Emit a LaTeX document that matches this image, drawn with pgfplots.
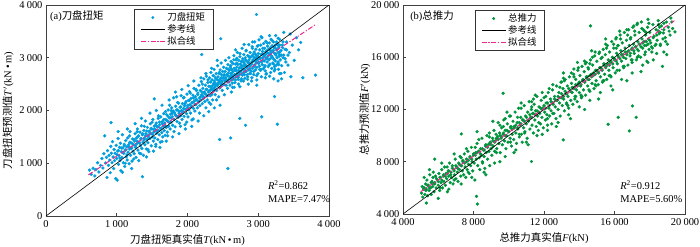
\documentclass[border=0pt]{standalone}
\usepackage{pgfplots}
\pgfplotsset{compat=1.18}
\usepackage{fontspec}
\setmainfont{Liberation Serif}
\newfontfamily\cjk{Noto Sans CJK SC}
\definecolor{tblue}{RGB}{0,158,220}
\definecolor{tgreen}{RGB}{0,148,60}
\definecolor{fitpink}{RGB}{236,40,140}
\pgfplotsset{
  myax/.style={
    scale only axis,
    clip marker paths=true,
    tick align=inside,
    tick pos=left,
    major tick length=3bp,
    axis line style={black!75, line width=0.7pt},
    every tick/.style={black!75, line width=0.6pt},
    ticklabel style={font=\fontsize{10.5}{11}\selectfont},
    xticklabel style={yshift=-1bp},
    /pgf/number format/assume math mode=true,
    /pgf/number format/1000 sep={\hspace{0.22em}},
    scaled ticks=false,
    label style={font=\fontsize{10.5}{12}\selectfont},
    xlabel style={at={(axis description cs:0.5,0)}, anchor=center, yshift=-24bp},
    legend style={draw=black!80, line width=0.6pt, font=\fontsize{9.5}{11}\selectfont\cjk, cells={anchor=west}, row sep=-1.5bp, inner xsep=6bp, inner ysep=1.5bp},
    legend cell align=left,
  },
  scat/.style={only marks, mark=*, mark size=1.45pt, mark options={draw=none}},
  markleg/.style={legend image code/.code={\draw[mark repeat=2,mark phase=2,##1, mark size=1.1pt] plot coordinates {(0bp,0bp) (12bp,0bp) (24bp,0bp)};}},
  lineleg/.style={legend image code/.code={\draw[##1] (0bp,0bp) -- (24bp,0bp);}},
}
\begin{document}
\begin{tikzpicture}
\useasboundingbox (0,0) rectangle (700bp,247bp);
% ---------------- (a) torque
\begin{axis}[myax, at={(46bp,31bp)}, anchor=south west, width=283bp, height=211bp,
  xmin=0, xmax=4000, ymin=0, ymax=4000,
  xtick={0,1000,2000,3000,4000}, ytick={0,1000,2000,3000,4000},
  xlabel={{\cjk 刀盘扭矩真实值}\textit{T}(kN\,•\,m)},
  ylabel={{\cjk 刀盘扭矩预测值}\textit{T}$'$(kN\,•\,m)},
  ylabel style={at={(axis description cs:-0.134,0.5)}, anchor=center, rotate=0},
  legend style={at={(0.311,0.981)}, anchor=north west},
]
\addplot[scat, fill=tblue, color=tblue, markleg]
coordinates {
(615,870)(640,790)(665,905)(690,760)(705,880)(730,1010)(748,835)(772,960)(790,1090)(805,910)(818,1180)(830,1520)(842,1005)(855,1110)(862,730)(870,1240)(883,960)(891,1150)(900,1060)(908,820)(916,1320)(925,1190)(933,1010)(941,1410)(948,1120)(955,900)(963,1260)(970,1050)(978,1190)(985,710)(992,1340)(1000,1090)(1006,680)(1012,1230)(1019,1470)(1025,980)(1032,1150)(1039,1300)(1046,1050)(1052,1380)(1058,860)(1065,1220)(1072,1110)(1079,1540)(1086,1290)(1093,1010)(1100,1190)(1106,1360)(1112,940)(1119,1250)(1126,1430)(1133,1120)(1140,1310)(1147,1060)(1154,1480)(1160,1210)(1167,1350)(1174,990)(1181,1270)(1188,1600)(1195,1150)(1200,1390)(920,1770)(1210,1300)(1216,1040)(1223,1460)(1230,1230)(1237,1350)
(1245,1180)(1252,1420)(1259,1560)(1266,1300)(1272,1110)(1279,1480)(1286,1370)(1293,1650)(1300,1250)(1307,1520)(1314,1400)(1321,1190)(1328,1590)(1335,1330)(1342,1460)(1349,1710)(1356,1280)(1363,745)(1363,1540)(1370,1400)(1377,1150)(1384,1620)(1391,1480)(1398,1350)(1405,1800)(1412,1560)(1419,1270)(1426,1450)(1433,1680)(1440,1390)(1447,1530)(1454,1220)(1461,1610)(1468,1470)(1475,1750)(1482,1560)(1489,1330)(1496,1650)(1503,1500)(1510,1830)(1517,1420)(1524,1590)(1530,2220)(1531,1700)(1538,1480)(1545,1640)(1552,1360)(1559,1760)(1566,1570)(1573,1690)(1580,1450)(1587,1850)(1594,1620)(1601,1540)(1608,1730)(1615,1400)(1622,1880)(1629,1660)(1636,1580)(1643,1790)(1650,1500)(1657,1700)(1664,1940)(1671,1620)(1678,1760)(1685,1530)(1692,1830)(1699,1680)
(1706,1920)(1713,1590)(1720,1800)(1727,2010)(1734,1700)(1741,1860)(1748,2100)(1755,1650)(1762,1930)(1769,1780)(1776,2050)(1783,1880)(1790,1720)(1797,1990)(1804,2240)(1811,1830)(1818,1960)(1825,1690)(1832,2080)(1839,1900)(1846,2260)(1853,1790)(1860,2010)(1867,1870)(1874,2140)(1881,1950)(1888,1760)(1895,2060)(1902,1900)(1909,2280)(1916,2000)(1923,1830)(1930,2130)(1937,1980)(1944,2240)(1951,1890)(1958,2090)(1965,1730)(1972,2020)(1979,2170)(1986,1940)(1993,2310)(2000,2060)(2007,1880)(2014,2190)(2021,2010)(2028,2360)(2035,2110)(2042,1950)(2049,2230)(2056,2080)(2063,1820)(2070,2150)(2077,2290)(2084,2040)(2091,2420)(2098,2180)(2105,1990)(2112,2260)(2119,2110)(2126,2380)(2133,2200)(2140,2050)(2147,2330)(2154,2160)(2161,2480)(2168,2240)(2175,2090)(2182,2380)(2189,2200)(2196,2550)(2200,3060)(2203,2300)(2210,2130)(2217,2420)(2224,2260)(2231,2600)(2238,2350)(2245,2170)(2252,2480)(2259,2310)(2266,2650)(2273,2400)(2280,2200)(2287,2530)(2294,2350)
(2301,2460)(2306,2150)(2311,2620)(2316,2380)(2321,2280)(2326,2540)(2331,2720)(2336,2410)(2341,2300)(2346,2580)(2351,2470)(2356,2200)(2361,2660)(2366,2510)(2371,2390)(2376,2780)(2381,2560)(2386,2440)(2391,2300)(2396,2620)(2401,2510)(2406,2700)(2411,2380)(2416,2590)(2421,2470)(2426,2850)(2431,2640)(2436,2520)(2441,2260)(2446,2700)(2451,2560)(2453,1450)(2456,2430)(2461,2770)(2466,2610)(2470,3360)(2471,2500)(2476,2900)(2481,2680)(2486,2560)(2491,2380)(2496,2740)(2501,2620)(2506,2490)(2511,2820)(2516,2660)(2521,2300)(2526,2560)(2531,2740)(2536,2950)(2541,2620)(2546,2480)(2551,2800)(2556,2680)(2561,2550)(2566,2420)(2570,900)(2571,2870)(2576,2710)(2581,2590)(2586,3000)(2591,2760)(2596,2640)(2601,2480)(2606,2820)(2610,1480)(2611,2700)(2616,2930)(2621,2580)(2626,2780)(2631,2660)(2636,2440)(2641,2890)(2646,2740)(2651,2620)(2656,3040)(2661,2800)(2666,2680)(2671,2530)(2676,2880)(2681,2760)(2686,2960)(2691,2640)(2696,2820)(2701,2700)(2706,3100)(2711,2870)(2716,2590)(2721,2760)(2726,2950)(2731,2810)(2736,2680)(2740,1850)(2741,3020)(2746,2880)(2751,2740)(2756,2560)(2761,2930)(2766,2800)(2771,3180)(2776,2670)(2781,2980)(2786,2840)(2791,2720)(2796,3060)(2801,2900)(2806,2780)(2811,2610)(2816,3000)(2820,1720)(2821,2860)(2826,2740)(2831,3140)(2836,2940)(2841,2810)(2846,2680)(2851,3040)(2856,2900)(2861,2770)(2866,3250)(2871,2960)(2876,2840)(2881,2700)(2886,3100)(2891,2880)(2896,2750)(2901,3020)(2906,2560)(2911,2920)(2916,3180)(2921,2800)(2926,3060)(2931,2940)(2936,2680)(2941,3110)(2946,2860)(2951,3300)(2956,2990)(2961,2770)(2966,3160)(2971,2900)(2975,3820)(2976,3040)(2981,2820)(2986,3220)(2991,2960)(2996,2700)(3001,3080)(3006,2910)(3011,3340)(3016,2840)(3021,3150)(3026,2990)(3031,2760)(3036,3240)(3041,3060)(3046,2920)(3050,1880)(3051,3380)(3056,2870)(3061,3120)(3066,3000)(3071,2790)(3076,3270)(3081,3050)(3086,2940)(3091,3180)(3096,2850)(3101,3060)(3106,3310)(3111,2980)(3116,2700)(3121,3130)(3126,2920)(3131,3220)(3136,3030)(3141,2830)(3146,3160)(3151,2960)(3156,3280)(3161,3070)(3166,2880)(3171,3190)(3176,2990)(3181,3350)(3186,3100)(3191,2800)(3196,3230)(3201,3010)(3206,2900)(3211,3140)(3216,3300)(3221,2970)(3226,2750)(3230,2265)(3231,3080)(3236,3190)(3241,2940)(3246,3420)(3251,3050)(3256,2860)(3261,3150)(3266,3000)(3270,1740)(3271,3260)(3276,2900)(3281,3100)(3286,2780)(3291,3200)(3296,3030)(3301,3350)(3311,2960)(3321,3140)(3331,2850)(3341,3240)(3351,3000)(3361,3480)(3371,2720)(3381,3160)(3391,2920)(3401,3300)(3421,2860)(3441,3100)(3461,2640)(3481,3240)(3510,2950)(3540,3380)(3570,3150)(3630,2620)(3810,2670)(3600,3290)(3450,3450)
(1005,1160)(1025,1240)(1045,1100)(1065,1290)(1085,1200)(1105,1330)(1125,1250)(1145,1160)(1165,1320)(1185,1400)(1205,1280)(1225,1370)(1245,1450)(1265,1330)(1285,1420)(1305,1510)(1325,1380)(1345,1470)(1365,1560)(1385,1440)(1405,1520)(1425,1610)(1445,1500)(1465,1580)(1485,1660)(1505,1550)(1525,1640)(1545,1720)(1565,1600)(1585,1690)(1605,1780)(1625,1660)(1645,1750)(1665,1830)(1685,1710)(1705,1810)(1725,1890)(1745,1770)(1765,1860)(1785,1950)(1805,1830)(1825,1920)(1845,2010)(1865,1890)(1885,1980)(1905,2070)(1925,1950)(1945,2040)(1965,2130)(1985,2010)(2005,2100)(2025,2190)(2045,2060)(2065,2150)(2085,2240)(2105,2120)(2125,2210)(2145,2300)(2165,2170)(2185,2260)(2205,2350)(2225,2230)(2245,2320)(2265,2400)(2285,2280)(2305,2370)(2325,2450)(2345,2330)(2365,2420)(2385,2510)(2405,2390)(2425,2480)(2445,2560)(2465,2440)(2485,2530)(2505,2610)(2525,2490)(2545,2580)(2565,2660)(2585,2540)(2605,2630)(2625,2710)(2645,2590)(2665,2680)(2685,2760)(2705,2640)(2725,2730)(2745,2810)(2765,2690)(2785,2780)(2805,2860)(2825,2740)(2845,2830)(2865,2910)(2885,2790)(2905,2880)(2925,2960)(2945,2840)(2965,2930)(2985,3010)(3005,2890)(3025,2980)(3045,3060)(3065,2940)(3085,3030)(3105,3110)(3125,2990)(3145,3080)(3165,3150)(3185,3040)(3205,3120)(3225,3190)(3245,3070)(3265,3160)(3285,3230)(3305,3110)
(2612,2850)(2633,2520)(2655,2960)(2677,2580)(2698,2990)(2719,2630)(2742,3080)(2763,2600)(2784,2930)(2806,2680)(2828,3130)(2849,2640)(2871,3020)(2893,2700)(2914,3210)(2936,2740)(2957,3070)(2979,2660)(3001,3230)(3022,2780)(3044,2640)(3066,3180)(3087,2820)(3109,2690)(3130,3280)(3152,2860)(3174,2720)(3195,3330)(3217,2880)(3238,2780)(3260,3300)(3282,2920)(3303,3240)(3325,3050)(3346,3190)(2660,2440)(2720,2500)(2790,2560)(2850,2590)(2910,2620)(2980,2580)(3040,2780)(3100,2750)(3160,2650)(3230,2830)(3290,2870)(3320,2700)(3360,3050)(2580,2780)(2520,2680)(2480,2620)(2440,2570)(2390,2470)(2350,2400)
(1020,1600)(1080,830)(1150,1650)(1210,900)(1260,1750)(1310,1050)(1350,1850)(1420,1120)(1470,1950)(1520,1230)(1560,2000)(1610,1300)(1640,2100)(1700,1420)(1740,2200)(1790,1500)(1830,2350)(1880,1560)(1920,2400)(1970,1650)(2010,2470)(2060,1700)(2090,2560)(2150,1800)(2190,2620)(2230,1900)(2260,2700)(2300,1980)(2340,2800)(2380,2050)(2420,2950)(2460,2100)(1120,1000)(1180,1520)(1240,1080)(1290,1600)(1340,1180)(1390,1700)(1440,1260)(1500,1780)(1550,1320)(1590,1900)(1640,1410)(1690,1980)(1720,1520)(1770,2000)(1810,1600)(1860,2150)(1900,1700)(1950,2250)(1990,1780)(2040,2330)(2080,1840)(2120,2400)(2170,1950)(2210,2500)(2260,2050)(2290,2580)(2330,2120)(2370,2660)(2410,2200)(2450,2720)
(2620,2350)(2680,3150)(2740,2450)(2800,3250)(2860,2500)(2920,3300)(2980,2480)(3040,3400)(3100,2620)(3160,3420)(3220,2600)(3280,3370)(2700,2900)(2760,2860)(2820,2960)(2880,3000)(2940,3010)(3000,3020)(3060,3080)(3120,3100)(3180,3120)(3240,3240)(3300,3060)(3350,3300)(3330,2600)(3280,2560)(3400,3150)(3380,2980)(3420,3050)(3300,2700)
};
\addlegendentry{刀盘扭矩}
\addplot[black, line width=0.6pt, lineleg]
coordinates {(0,0) (4000,4000)};
\addlegendentry{参考线}
\addplot[fitpink, line width=1pt, dash pattern=on 5pt off 1.8pt on 1.2pt off 1.8pt, lineleg]
coordinates {(600,780) (3800,3620)};
\addlegendentry{拟合线}
\node[anchor=west, font=\fontsize{10.5}{12}\selectfont, inner sep=0pt] at (rel axis cs:0.014,0.948) {(a){\cjk 刀盘扭矩}};
\node[anchor=west, font=\fontsize{10.5}{12}\selectfont, inner sep=0pt] at (rel axis cs:0.784,0.147) {\textit{R}\textsuperscript{2}=0.862};
\node[anchor=west, font=\fontsize{10.5}{12}\selectfont, inner sep=0pt] at (rel axis cs:0.784,0.081) {MAPE=7.47\%};
\end{axis}
% ---------------- (b) thrust
\begin{axis}[myax, at={(403bp,33bp)}, anchor=south west, width=282bp, height=209bp,
  xmin=4000, xmax=20000, ymin=4000, ymax=20000,
  xtick={4000,8000,12000,16000,20000}, ytick={4000,8000,12000,16000,20000},
  xlabel={{\cjk 总推力真实值}\textit{F}(kN)},
  ylabel={{\cjk 总推力预测值}\textit{F}$'$(kN)},
  ylabel style={at={(axis description cs:-0.135,0.5)}, anchor=center, rotate=0},
  legend style={at={(0.255,0.976)}, anchor=north west},
]
\addplot[scat, fill=tgreen, color=tgreen, markleg]
coordinates {
(5050,5600)(5090,6100)(5120,5300)(5160,5900)(5200,6800)(5240,5500)(5280,6300)(5330,4840)(5320,5900)(5360,6600)(5400,5400)(5440,6200)(5480,5800)(5520,7000)(5560,6000)(5600,5500)(5640,6500)(5680,6100)(5720,7200)(5760,5700)(5800,6400)(5840,6900)(5880,6000)(5800,8200)(5960,6600)(6000,6200)(6040,7100)(6080,5800)(6120,6800)(6160,6400)(6200,7400)(6240,6000)(6280,6900)(6320,6500)(6360,7600)(6400,6200)(6440,7100)(6480,6700)(6520,5700)(6560,7300)(6600,6900)(6640,7900)(6680,6400)(6720,7200)(6760,6800)(6800,7700)(6840,6300)(6880,7400)(6920,7000)(6960,8200)(7000,6700)(7040,7600)(7080,7200)(7120,6500)(7160,7900)(7200,7400)(7240,8400)(7280,6900)(7310,10130)(7320,7700)(7360,7300)(7400,8100)(7440,7000)(7480,8600)(7520,7600)(7560,6800)(7600,8000)(7640,7400)(7680,8800)(7720,7800)(7760,7100)(7800,8300)(7840,7700)(7880,9100)(7920,8000)(7960,7300)(8000,8500)(8040,7900)(8080,6600)(8120,8700)(8170,5350)(8220,4760)(8160,8200)(8200,9400)(8240,7700)(8280,8800)(8320,8300)(8360,7400)(8400,9000)(8440,8500)(8480,9800)(8520,7900)(8560,8900)(8600,8400)(8640,7500)(8680,9200)(8720,8700)(8760,10000)(8800,8200)(8840,9300)(8880,8800)(8920,7700)(8960,9500)(9000,9000)
(9040,8500)(9080,9800)(9120,9200)(9160,10400)(9200,8800)(9240,9600)(9280,10100)(9320,9000)(9360,9900)(9400,11000)(9440,9400)(9480,10200)(9520,8700)(9560,9800)(9600,10600)(9640,9300)(9680,13240)(9680,10100)(9720,11200)(9760,9600)(9800,10400)(9840,9000)(9880,10000)(9920,10900)(9960,9500)(10000,10300)(10040,11500)(10080,9800)(10120,10700)(10160,9200)(10200,10100)(10240,11100)(10280,9700)(10320,10600)(10360,11800)(10400,10200)(10440,9400)(10480,11000)(10520,10500)(10560,12100)(10600,9900)(10640,10800)(10680,11400)(10720,10100)(10760,9500)(10800,11200)(10840,10600)(10880,12300)(10920,10300)(10960,11500)(11000,10900)(11040,9800)(11080,11800)(11120,11100)(11160,12600)(11200,10500)(11240,11400)(11290,8020)(11280,12000)(11320,10800)(11360,11700)(11400,10200)(11440,12400)(11480,11200)(11520,11900)(11560,10700)(11600,13000)(11640,11500)(11680,10400)(11720,12200)(11760,11700)(11800,10900)(11840,12700)(11880,11400)(11920,12100)(11960,10600)(12000,12900)(12040,11800)(12080,11200)(12120,12500)(12160,11600)(12200,10800)(12240,13300)(12280,12100)(12320,11500)(12360,12800)(12400,11900)(12440,10900)(12480,13500)(12520,12400)(12560,11700)(12600,13000)(12640,12200)(12680,11300)(12720,13800)(12760,12700)(12800,12000)(12840,13300)(12880,12500)(12920,11500)(12960,14100)(13000,12900)(13040,12300)(13090,9670)(13080,13600)(13120,12800)(13160,11900)(13200,14300)(13240,13200)(13280,12500)(13320,13800)(13360,13000)(13400,12100)(13440,14500)(13480,13400)
(13520,12700)(13560,14000)(13600,13300)(13640,12400)(13680,14700)(13720,13700)(13760,13000)(13800,14300)(13840,13500)(13880,12600)(13920,15000)(13960,14000)(14000,13300)(14040,14600)(14080,13800)(14120,12900)(14160,15300)(14200,14200)(14240,13500)(14280,14900)(14320,14100)(14360,13100)(14400,15600)(14440,14500)(14480,13800)(14520,15100)(14560,14300)(14600,13400)(14640,18400)(14640,15800)(14680,14700)(14720,14000)(14760,15400)(14800,14600)(14840,13600)(14880,16100)(14920,15000)(14960,14200)(15000,15700)(15040,14900)(15080,13900)(15120,16300)(15160,15200)(15200,14500)(15240,15900)(15280,15100)(15320,14100)(15360,16600)(15400,15500)(15440,14700)(15480,16200)(15520,15300)(15560,14300)(15600,16900)(15640,10870)(15640,15800)(15680,15000)(15720,16400)(15760,15600)(15800,14500)(15840,17200)(15880,16000)(15920,15200)(15960,16700)(16000,15800)(16040,14800)(16080,17400)(16120,16300)(16160,15500)(16210,11400)(16200,16900)(16240,16000)(16280,15000)(16320,17700)(16360,16500)(16400,15700)(16440,17100)(16480,16200)(16520,15200)(16560,17900)(16600,16700)(16640,15900)(16680,17300)(16720,16400)(16760,15400)(16800,18100)(16840,10360)(16840,16900)(16880,16100)(16920,17500)(16960,16600)(17000,15600)(17020,12270)(17040,18300)(17080,17000)(17120,16300)(17160,17700)(17200,16800)(17230,11400)(17240,15800)(17280,18500)(17320,17200)(17360,16500)(17400,17900)(17440,17000)(17480,16000)(17520,18700)(17560,17400)(17600,16700)(17640,18100)(17680,17200)(17720,16200)(17760,17700)(17800,16900)(17840,15700)(17880,18300)(17920,17400)(17960,16600)(18000,17900)(18060,17100)(18120,16400)(18180,18500)(18240,17600)(18300,16900)(18390,16290)(18360,18100)(18420,17300)(18480,18800)(18540,17800)(18600,17000)(18660,18400)(18720,15300)(18770,17860)(18800,18600)(18880,17500)(18960,16200)(19050,18300)(19150,17700)(19250,18700)(19430,17940)
(5200,6000)(5300,5800)(5400,6200)(5500,6000)(5600,6400)(5700,6300)(5800,6300)(5900,6700)(6000,6500)(6100,6800)(6200,6600)(6300,7000)(6400,6900)(6500,7100)(6600,7300)(6700,7000)(6800,7500)(6900,7300)(7000,7700)(7100,7500)(7200,7800)(7300,7700)(7400,8000)(7500,7900)(7600,8200)(7700,8100)(7800,8400)(7900,8200)(8000,8600)(8100,8500)(8200,8700)(8300,8800)(8400,8600)(8500,9000)(8600,8900)(8700,9300)(8800,9100)(8900,9400)(9000,9300)(9100,9600)(9200,9500)(9300,9800)(9400,9700)(9500,10000)(9600,9900)(9700,10200)(9800,10000)(9900,10400)(10000,10300)(10100,10600)(10200,10500)(10300,10700)(10400,10800)(10500,10600)(10600,11000)(10700,10900)(10800,11200)(10900,11100)(11000,11400)(11100,11200)(11200,11600)(11300,11400)(11400,11700)(11500,11600)(11600,11900)(11700,11800)(11800,12100)(11900,12000)(12000,12300)(12100,12100)(12200,12500)(12300,12300)(12400,12600)(12500,12500)(12600,12800)(12700,12700)(12800,13000)(12900,12900)(13000,13200)(13100,13000)(13200,13400)(13300,13200)(13400,13600)(13500,13400)(13600,13700)(13700,13600)(13800,13900)(13900,13800)(14000,14100)(14100,13900)(14200,14300)(14300,14100)(14400,14500)(14500,14300)(14600,14600)(14700,14500)(14800,14800)(14900,14700)(15000,15000)(15100,14800)(15200,15200)(15300,15000)(15400,15400)(15500,15200)(15600,15500)(15700,15400)(15800,15700)(15900,15500)(16000,15900)(16100,15700)(16200,16100)(16300,15900)(16400,16200)(16500,16000)(16600,16400)(16700,16200)(16800,16500)(16900,16300)(17000,16700)(17100,16500)(17200,16800)(17300,16600)(17400,17000)(17500,16800)(17600,17100)(17700,16900)(17800,17200)(17900,17000)(18000,17300)(18200,17500)(18400,17700)(18600,17900)(18800,18100)
(13150,14200)(13350,12300)(13550,14800)(13750,12800)(13950,15200)(14150,13000)(14350,15500)(14550,13500)(14750,16000)(14950,13800)(15150,16400)(15350,14200)(15550,16700)(15750,14600)(15950,17000)(16150,15000)(16350,17400)(16550,15300)(16750,17700)(16950,15800)(17150,18000)(17350,16100)(17550,18200)(17750,16400)(17950,18600)(18150,16700)(18350,17000)(18550,18300)(18750,17400)(18950,18700)(19100,18000)(19300,18200)
(5500,7400)(6000,5200)(6200,7900)(6600,5900)(6900,8600)(7300,6300)(7600,9000)(7900,6800)(8300,9700)(8600,7200)(8900,10200)(9200,7900)(9500,10800)(9800,8400)(10100,11500)(10400,8900)(10700,12100)(11000,9500)(11300,12600)(11600,10000)(11900,13300)(12200,10400)(12500,13900)(12800,11000)(13100,14400)(13400,11600)(13700,15100)(14000,12200)(14300,15700)(14600,12700)(14900,16400)(15200,13300)(15500,17000)(15800,13800)(16100,17500)(16400,14300)(16700,18100)(17000,14800)(17300,18600)(17600,15400)(17900,18900)(18200,15800)(18500,18500)(18800,16400)
(5700,6800)(6100,6000)(6500,7600)(6900,6600)(7300,8300)(7700,7200)(8100,9100)(8500,8000)(8900,9900)(9300,8700)(9700,10700)(10100,9500)(10500,11400)(10900,10200)(11300,12200)(11700,11000)(12100,13000)(12500,11700)(12900,13700)(13300,12400)(13700,14500)(14100,13100)(14500,15200)(14900,13900)(15300,16000)(15700,14600)(16100,16700)(16500,15300)(16900,17400)(17300,16000)(17700,18000)(18100,16800)(18500,18000)(18900,17200)
(8200,10300)(8700,7000)(9100,11100)(9500,8000)(9900,11800)(10300,8700)(10700,12500)(11100,9300)(11500,13100)(11900,10100)(12300,13600)(12700,10700)(13100,14800)(13500,11300)(13900,15600)(14300,12000)(14700,16500)(15100,12800)(15500,17400)(15900,13500)(16300,18000)(16700,14200)(17100,18400)(17500,14900)(17900,15600)(9800,11300)(10600,10100)(11400,12800)(12200,11300)(13000,14100)(13800,13000)(14600,15500)(15400,14200)(16200,16900)(17000,15800)(17800,17900)(18600,16900)(19200,19000)(19000,17000)
};
\addlegendentry{总推力}
\addplot[black, line width=0.6pt, lineleg]
coordinates {(4000,4000) (20000,20000)};
\addlegendentry{参考线}
\addplot[fitpink, line width=1pt, dash pattern=on 5pt off 1.8pt on 1.2pt off 1.8pt, lineleg]
coordinates {(5000,5700) (19400,18800)};
\addlegendentry{拟合线}
\node[anchor=west, font=\fontsize{10.5}{12}\selectfont, inner sep=0pt] at (rel axis cs:0.025,0.947) {(b){\cjk 总推力}};
\node[anchor=west, font=\fontsize{10.5}{12}\selectfont, inner sep=0pt] at (rel axis cs:0.770,0.139) {\textit{R}\textsuperscript{2}=0.912};
\node[anchor=west, font=\fontsize{10.5}{12}\selectfont, inner sep=0pt] at (rel axis cs:0.770,0.072) {MAPE=5.60\%};
\end{axis}
\end{tikzpicture}
\end{document}
